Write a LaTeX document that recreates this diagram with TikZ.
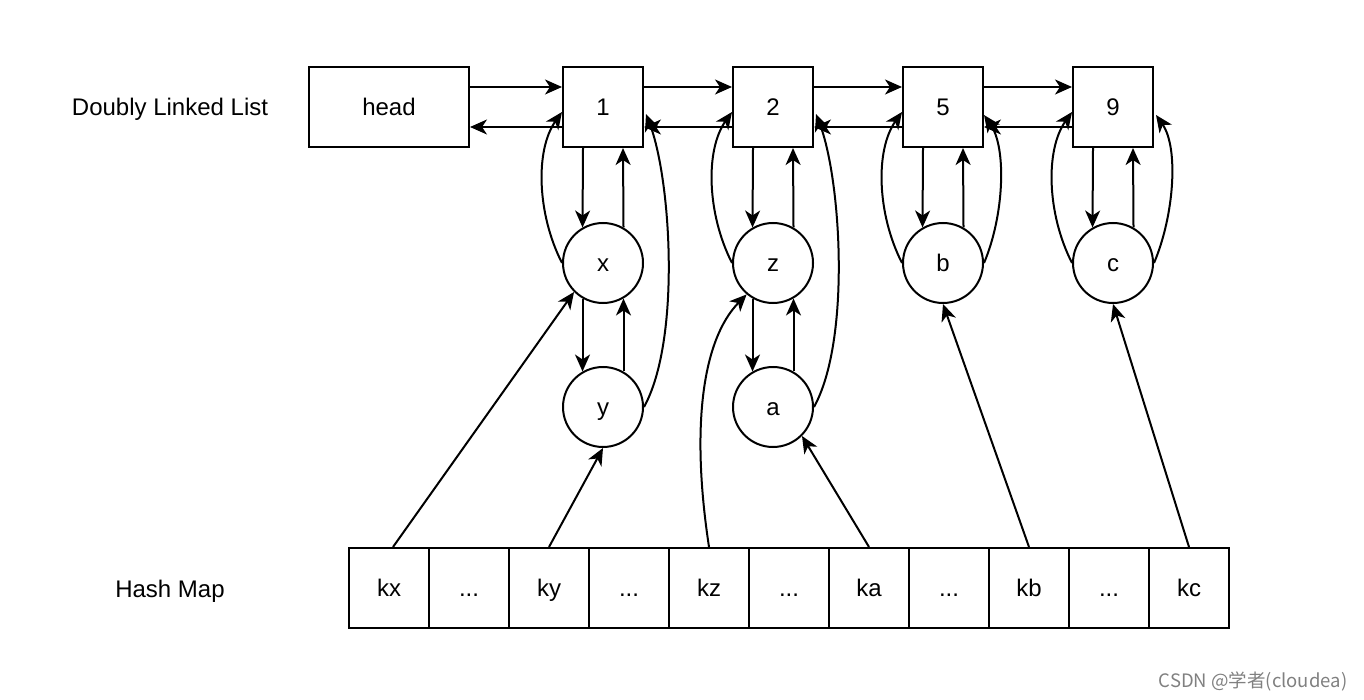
\documentclass[tikz,border=0pt]{standalone}
\usepackage{fontspec}
\setmainfont{Liberation Sans}
\newfontfamily\cjk{Noto Sans CJK SC}
\usetikzlibrary{arrows.meta,calc}
\begin{document}
\begin{tikzpicture}[x=1pt,y=1pt,
  every node/.style={font=\fontsize{24}{28}\selectfont,text height=17.3pt,text depth=0pt},
  box/.style={draw,line width=2pt,minimum width=80pt,minimum height=80pt,inner sep=0pt},
  headbox/.style={box,minimum width=160pt},
  elem/.style={draw,circle,line width=2pt,minimum size=80pt,inner sep=0pt},
  arr/.style={line width=2pt,-{Stealth[length=17pt,width=15pt,inset=5pt]}},
  wmark/.style={text=black!50,font=\cjk\fontsize{18.5}{22}\selectfont,text height=,text depth=}]
\useasboundingbox (0,0) rectangle (1364,-700);

% labels
\node (dll) at (170,-107) {Doubly Linked List};
\node (hm) at (170,-589) {Hash Map};

% list boxes
\node[headbox] (head) at (389,-107) {head};
\node[box] (b1) at (603,-107) {1};
\node[box] (b2) at (773,-107) {2};
\node[box] (b5) at (943,-107) {5};
\node[box] (b9) at (1113,-107) {9};

% element circles
\node[elem] (cx) at (603,-263) {x};
\node[elem] (cz) at (773,-263) {z};
\node[elem] (cb) at (943,-263) {b};
\node[elem] (cc) at (1113,-263) {c};
\node[elem] (cy) at (603,-407) {y};
\node[elem] (ca) at (773,-407) {a};

% hash map cells
\node[box] (h0) at (389,-588) {kx};
\node[box] (h1) at (469,-588) {...};
\node[box] (h2) at (549,-588) {ky};
\node[box] (h3) at (629,-588) {...};
\node[box] (h4) at (709,-588) {kz};
\node[box] (h5) at (789,-588) {...};
\node[box] (h6) at (869,-588) {ka};
\node[box] (h7) at (949,-588) {...};
\node[box] (h8) at (1029,-588) {kb};
\node[box] (h9) at (1109,-588) {...};
\node[box] (h10) at (1189,-588) {kc};

% horizontal links
\foreach \a/\b in {head/b1,b1/b2,b2/b5,b5/b9}{
  \draw[arr] ([yshift=20pt]\a.east) -- ([yshift=20pt]\b.west);
  \draw[arr] ([yshift=-20pt]\b.west) -- ([yshift=-20pt]\a.east);
}

% box <-> first element
\foreach \b/\c in {b1/cx,b2/cz,b5/cb,b9/cc}{
  \draw[arr] ([xshift=-20pt]\b.south) -- (\c.120);
  \draw[arr] (\c.60) -- ([xshift=20pt]\b.south);
}

% element <-> next element
\foreach \c/\d in {cx/cy,cz/ca}{
  \draw[arr] (\c.240) -- (\d.120);
  \draw[arr] (\d.60) -- (\c.300);
}

% curved back links (left side)
\foreach \c/\b in {cx/b1,cz/b2,cb/b5,cc/b9}{
  \draw[arr] (\c.west) .. controls +(-25,49) and +(-27,-38) .. ([yshift=-5pt]\b.west);
}

% curved links (right side)
\draw[arr] (cy.east) .. controls +(37,67) and +(25,-66) .. ([xshift=2pt,yshift=-7pt]b1.east);
\draw[arr] (ca.east) .. controls +(37,67) and +(25,-66) .. ([xshift=2pt,yshift=-7pt]b2.east);
\draw[arr] (cb.east) .. controls +(20,47) and +(23,-33) .. ([yshift=-8pt]b5.east);
\draw[arr] (cc.east) .. controls +(20,47) and +(23,-33) .. ([xshift=2pt,yshift=-8pt]b9.east);

% hash map pointers
\draw[arr] ([xshift=4pt]h0.north) -- (cx.225);
\draw[arr] (h2.north) -- (cy.south);
\draw[arr] (h4.north) .. controls +(-18,118) and +(-45,-46) .. (cz.230);
\draw[arr] (h6.north) -- (ca.315);
\draw[arr] (h8.north) -- (cb.south);
\draw[arr] (h10.north) -- (cc.south);

% watermark
\node[wmark] (wm) at (1253,-681) {CSDN @学者(cloudea)};
\end{tikzpicture}
\end{document}
